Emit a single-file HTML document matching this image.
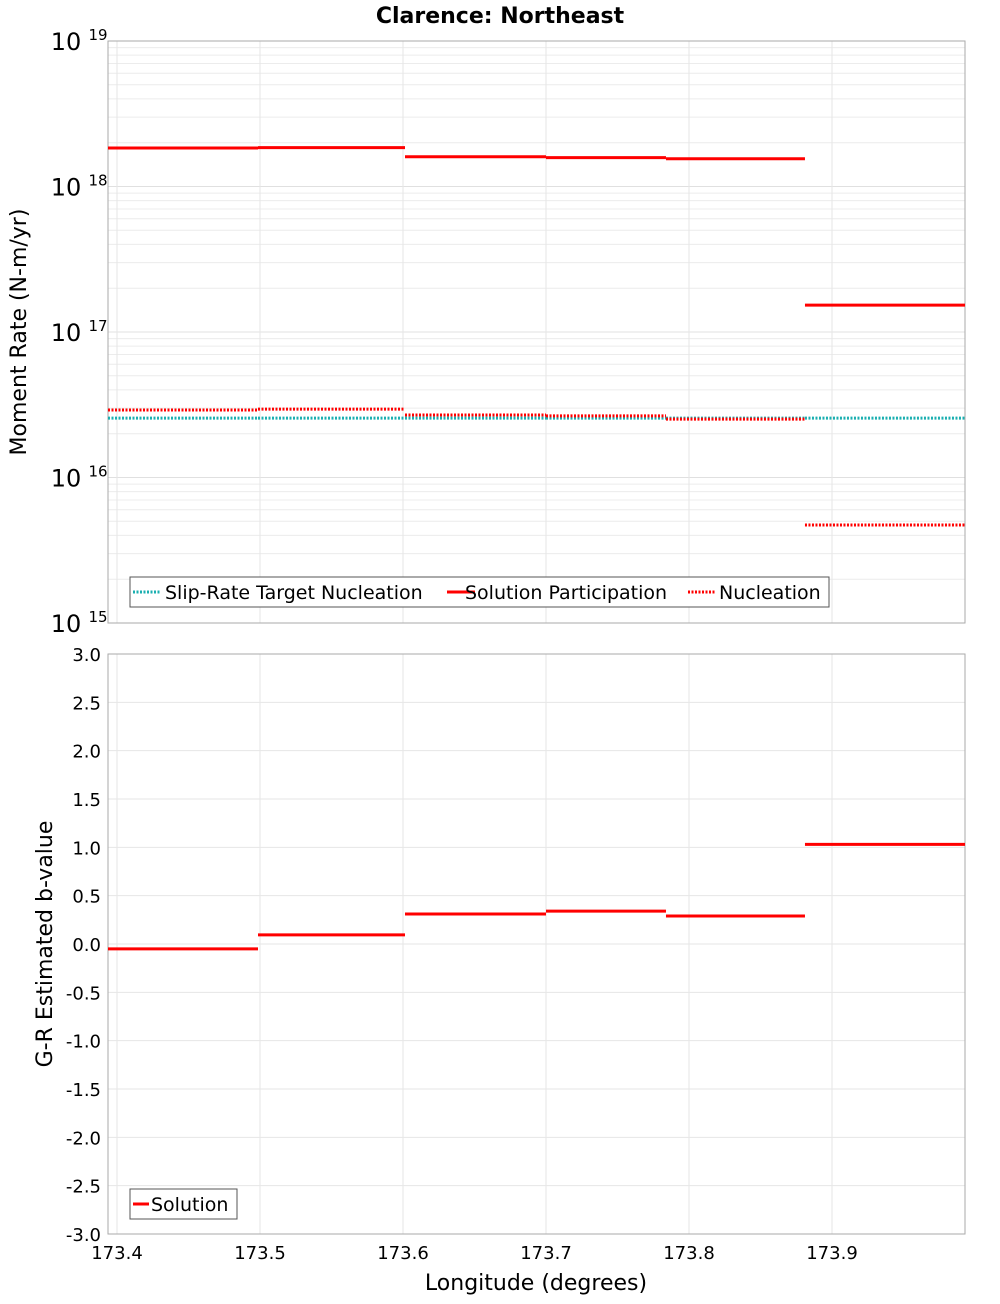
<!DOCTYPE html>
<html><head><meta charset="utf-8"><style>
body{margin:0;background:#fff;font-family:"DejaVu Sans","Liberation Sans",sans-serif;}
svg text{font-family:"DejaVu Sans","Liberation Sans",sans-serif;}
</style></head><body>
<svg id="chart" width="1000" height="1300" xmlns="http://www.w3.org/2000/svg">
<text x="500" y="23" text-anchor="middle" font-size="22" font-weight="bold">Clarence: Northeast</text>
<g id="topPanel"></g>
<g id="botPanel"></g>
<text x="26" y="332" transform="rotate(-90 26 332)" text-anchor="middle" font-size="22">Moment Rate (N-m/yr)</text>
<text x="52" y="944" transform="rotate(-90 52 944)" text-anchor="middle" font-size="22">G-R Estimated b-value</text>
<text x="536" y="1290" text-anchor="middle" font-size="22">Longitude (degrees)</text>
</svg>
<script>
const binEdges=[173.3937,173.4986,173.6014,173.7,173.7839,173.8811,173.993];
const solutionParticipation=[1.84e18,1.85e18,1.6e18,1.58e18,1.55e18,1.53e17];
const nucleation=[2.91e16,2.95e16,2.69e16,2.65e16,2.52e16,4.72e15];
const targetNucleation=[2.56e16,2.56e16,2.56e16,2.56e16,2.56e16,2.56e16];
const bValues=[-0.05,0.095,0.31,0.34,0.29,1.03];
const xTicks=[173.4,173.5,173.6,173.7,173.8,173.9];
const bTicks=[3.0,2.5,2.0,1.5,1.0,0.5,0.0,-0.5,-1.0,-1.5,-2.0,-2.5,-3.0];
const logTicks=[19,18,17,16,15];

const NS="http://www.w3.org/2000/svg";
const L=108,R=965,T1=41,B1=623,T2=654,B2=1234;
const xs=v=>117+(v-173.4)*1430;
const ly=v=>T1+(19-Math.log10(v))*(B1-T1)/4;
const by=v=>T2+(3-v)*(B2-T2)/6;
function mk(p,tag,a,txt){const e=document.createElementNS(NS,tag);for(const k in a)e.setAttribute(k,a[k]);if(txt!==undefined)e.textContent=txt;p.appendChild(e);return e;}
const topG=document.getElementById('topPanel'),botG=document.getElementById('botPanel');
for(let d=15;d<19;d++)for(let m=1;m<10;m++){const y=ly(m*Math.pow(10,d));
 const g=mk(topG,'line',{x1:L,x2:R,y1:y,y2:y,stroke:m==1?'#e0e0e0':'#ececec','stroke-width':1});
 
 }
xTicks.forEach(v=>{for(const [p,t,b] of [[topG,T1,B1],[botG,T2,B2]]){
 const g=mk(p,'line',{x1:xs(v),x2:xs(v),y1:t,y2:b,stroke:'#e6e6e6'});
 
 }});
bTicks.forEach(v=>{const g=mk(botG,'line',{x1:L,x2:R,y1:by(v),y2:by(v),stroke:'#e6e6e6'});
 
 });
let f=mk(topG,'rect',{x:L,y:T1,width:R-L,height:B1-T1,fill:'none',stroke:'#aaa'});


f=mk(botG,'rect',{x:L,y:T2,width:R-L,height:B2-T2,fill:'none',stroke:'#aaa'});


logTicks.forEach(d=>{const y=ly(Math.pow(10,d));
 const t=mk(topG,'text',{x:66,y:y+9,'font-size':24,'text-anchor':'middle'},'10');
 
 
 const s=mk(topG,'text',{x:98,y:y-1,'font-size':15,'text-anchor':'middle'},String(d));
 
 });
bTicks.forEach(v=>{const t=mk(botG,'text',{x:101,y:by(v)+7,'font-size':18,'text-anchor':'end'},v.toFixed(1));
 
 });
xTicks.forEach(v=>{const t=mk(botG,'text',{x:xs(v),y:1259,'font-size':18,'text-anchor':'middle'},v.toFixed(1));
 
 });
function seg(p,vals,yf,st,name){vals.forEach((v,i)=>{const x1=Math.max(L,xs(binEdges[i])),x2=Math.min(R,xs(binEdges[i+1]));
 const e=mk(p,'line',Object.assign({x1:x1,x2:x2,y1:yf(v),y2:yf(v),'stroke-width':3},st));
 
 });}
seg(topG,targetNucleation,ly,{stroke:'#1aafb0','stroke-dasharray':'2,1.5'},'target-nucleation-segment');
seg(topG,nucleation,ly,{stroke:'#ff0000','stroke-dasharray':'2,1.5'},'nucleation-segment');
seg(topG,solutionParticipation,ly,{stroke:'#ff0000'},'solution-participation-segment');
seg(botG,bValues,by,{stroke:'#ff0000'},'b-value-segment');
const lg=mk(topG,'g',{});


mk(lg,'rect',{x:130,y:577,width:699,height:30,fill:'#fff',stroke:'#555'});
const items=[[133,'#1aafb0',true,165,'Slip-Rate Target Nucleation'],[447,'#ff0000',false,465,'Solution Participation'],[688,'#ff0000',true,719,'Nucleation']];
items.forEach(([x,c,d,tx,txt])=>{const e=mk(lg,'g',{});
 
 
 mk(e,'line',{x1:x,x2:x+28,y1:592,y2:592,stroke:c,'stroke-width':3,'stroke-dasharray':d?'2,1.5':'none'});
 mk(e,'text',{x:tx,y:599,'font-size':19},txt);});
const lg2=mk(botG,'g',{});


mk(lg2,'rect',{x:130,y:1189,width:107,height:30,fill:'#fff',stroke:'#555'});
mk(lg2,'line',{x1:133,x2:149,y1:1204,y2:1204,stroke:'#ff0000','stroke-width':3});
mk(lg2,'text',{x:151,y:1211,'font-size':19},'Solution');
</script>
</body></html>
